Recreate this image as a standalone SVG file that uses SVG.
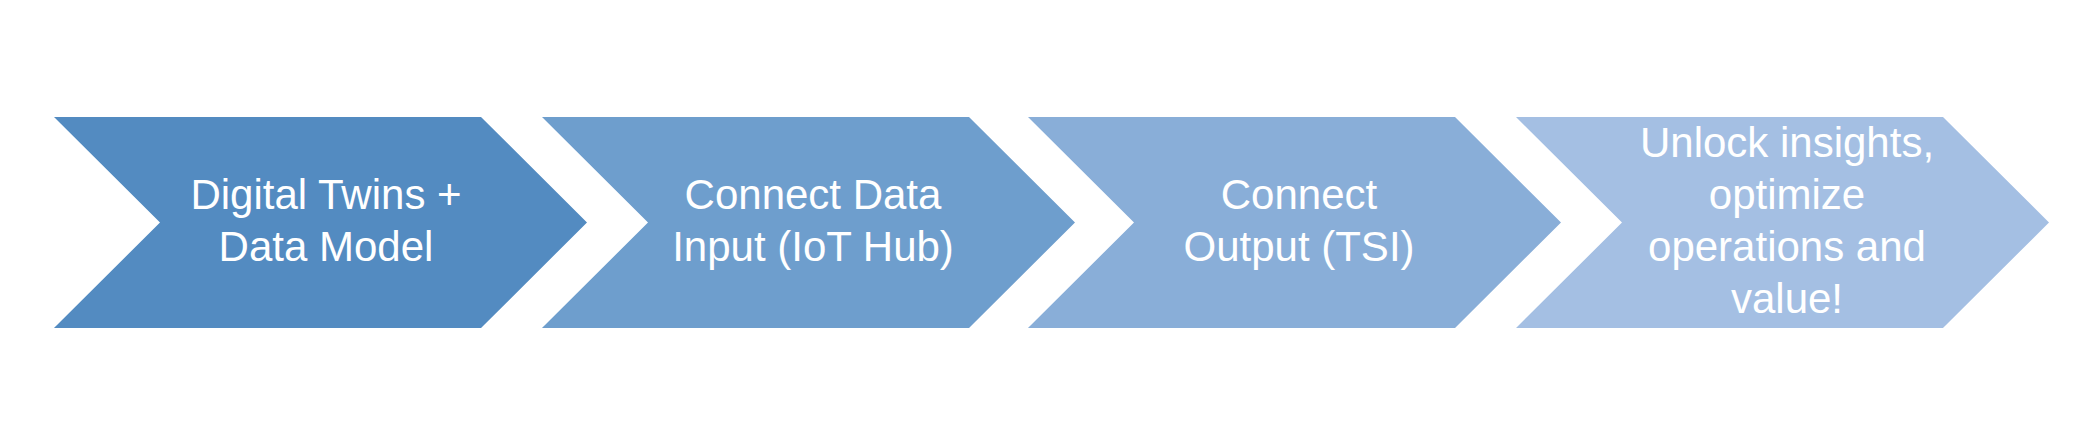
<svg xmlns="http://www.w3.org/2000/svg" width="2079" height="434" viewBox="0 0 2079 434">
<style>
.lbl{font-family:"Liberation Sans",Arial,sans-serif;font-size:42px;fill:#ffffff;text-anchor:middle}
</style>
<defs>
<path id="chev" d="M0,117 L427,117 L533,222.5 L427,328 L0,328 L106,222.5 Z"/>
</defs>
<rect width="2079" height="434" fill="#ffffff"/>
<g id="connectors"></g>
<g id="step1">
<use href="#chev" x="54" fill="#538BC1"/>
<text class="lbl" x="326" y="209">Digital Twins +</text>
<text class="lbl" x="326" y="261">Data Model</text>
</g>
<g id="step2">
<use href="#chev" x="542" fill="#6E9ECD"/>
<text class="lbl" x="813" y="209">Connect Data</text>
<text class="lbl" x="813" y="261">Input (IoT Hub)</text>
</g>
<g id="step3">
<use href="#chev" x="1028" fill="#89AED8"/>
<text class="lbl" x="1299" y="209">Connect</text>
<text class="lbl" x="1299" y="261">Output (TSI)</text>
</g>
<g id="step4">
<use href="#chev" x="1516" fill="#A4BFE3"/>
<text class="lbl" x="1787" y="157">Unlock insights,</text>
<text class="lbl" x="1787" y="209">optimize</text>
<text class="lbl" x="1787" y="261">operations and</text>
<text class="lbl" x="1787" y="313">value!</text>
</g>
</svg>
